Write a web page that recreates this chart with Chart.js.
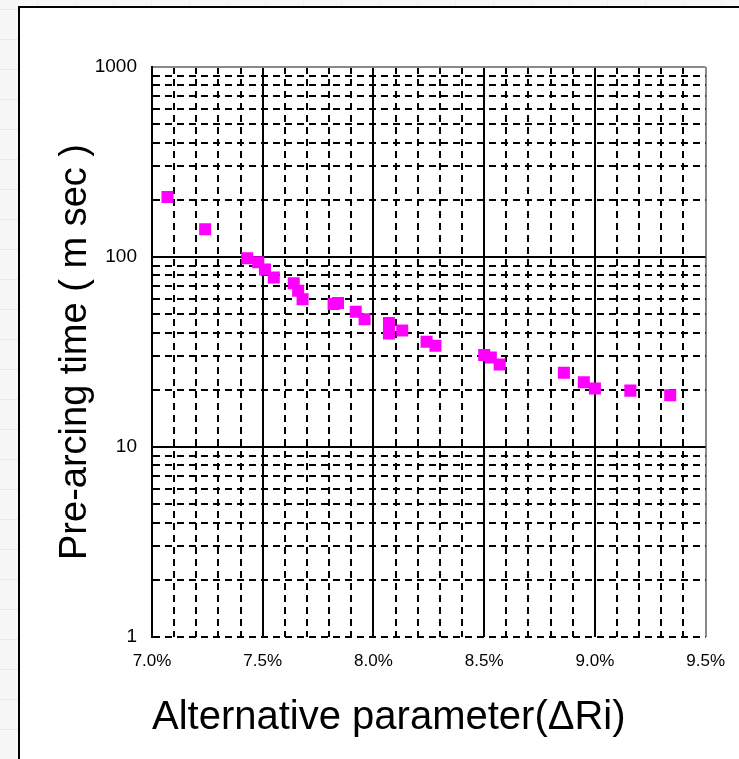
<!DOCTYPE html>
<html>
<head>
<meta charset="utf-8">
<script src="https://cdn.jsdelivr.net/npm/chart.js@4/dist/chart.umd.min.js"></script>
<style>
  html, body {
    margin: 0;
    padding: 0;
    width: 739px;
    height: 759px;
    overflow: hidden;
    background-color: #f7f7f7;
    background-image:
      repeating-linear-gradient(0deg, transparent 0 29px, #e9e9e9 29px 30px),
      repeating-linear-gradient(90deg, transparent 0 37px, #efefef 37px 38px);
  }
  #frame {
    position: absolute;
    left: 18px;
    top: 6px;
    width: 740px;
    height: 770px;
    border-left: 2px solid #000;
    border-top: 2px solid #000;
    background: #fff;
  }
  #chart {
    position: absolute;
    left: 0;
    top: 0;
  }
</style>
</head>
<body>
<div id="frame">
  <canvas id="chart" width="719" height="751"></canvas>
</div>
<script>
// values (x in %, y in msec)
const xValues = [7.07, 7.24, 7.43, 7.48, 7.51, 7.55, 7.64, 7.66, 7.68, 7.82, 7.84, 7.92, 7.96,
                 8.07, 8.07, 8.13, 8.24, 8.28, 8.50, 8.53, 8.57, 8.86, 8.95, 9.00, 9.16, 9.34];
const yValues = [207, 140, 98.5, 93.8, 86, 78, 72.8, 66.5, 60, 56.6, 57.3, 51.5, 47,
                 45, 39.6, 41, 35.8, 34.1, 30.5, 29.6, 27.2, 24.6, 21.9, 20.3, 19.8, 18.7];

// grid / tick positions
const xTicks = [7.0, 7.1, 7.2, 7.3, 7.4, 7.5, 7.6, 7.7, 7.8, 7.9,
                8.0, 8.1, 8.2, 8.3, 8.4, 8.5, 8.6, 8.7, 8.8, 8.9,
                9.0, 9.1, 9.2, 9.3, 9.4, 9.5];
const xLabelTicks = [7.0, 7.5, 8.0, 8.5, 9.0, 9.5];
const yTicks = [1, 2, 3, 4, 5, 6, 7, 8, 9,
                10, 20, 30, 40, 50, 60, 70, 80, 90,
                100, 200, 300, 400, 500, 600, 700, 800, 900, 1000];
const yLabelTicks = [1, 10, 100, 1000];

const xTitle = "Alternative parameter(ΔRi)";
const yTitle = "Pre-arcing time ( m sec )";

const points = xValues.map((x, i) => ({ x: x, y: yValues[i] }));

const fontFamily = "'Liberation Sans', Arial, sans-serif";

function near(a, b) {
  return Math.abs(a - b) < 1e-6;
}
function isXLabel(v) {
  return xLabelTicks.some(t => near(t, v));
}
function tickVal(ctx) {
  return ctx && ctx.tick ? ctx.tick.value : null;
}

new Chart(document.getElementById("chart"), {
  type: "scatter",
  data: {
    datasets: [{
      data: points,
      pointStyle: "rect",
      radius: 8.5,
      hoverRadius: 8.5,
      backgroundColor: "#ff00ff",
      borderWidth: 0
    }]
  },
  options: {
    responsive: false,
    animation: false,
    devicePixelRatio: 1,
    layout: {
      padding: { left: 0, top: 59, right: 31, bottom: 17 }
    },
    plugins: {
      legend: { display: false },
      tooltip: { enabled: false }
    },
    scales: {
      x: {
        type: "linear",
        min: 7,
        max: 9.5,
        afterBuildTicks: scale => {
          scale.ticks = xTicks.map(v => ({ value: v }));
        },
        afterFit: scale => { scale.height = 105; },
        ticks: {
          autoSkip: false,
          maxRotation: 0,
          minRotation: 0,
          padding: 14,
          color: "#000",
          font: { family: fontFamily, size: 17 },
          callback: v => isXLabel(v) ? v.toFixed(1) + "%" : ""
        },
        grid: {
          drawTicks: false,
          lineWidth: 2,
          color: ctx => near(tickVal(ctx), 9.5) ? "#8a8a8a" : "#000"
        },
        border: {
          display: false,
          dash: ctx => {
            const v = tickVal(ctx);
            return v === null || isXLabel(v) ? [] : [7, 5];
          }
        },
        title: {
          display: true,
          text: xTitle,
          align: "start",
          color: "#000",
          padding: { top: 0, bottom: 0 },
          font: { family: fontFamily, size: 40, weight: "normal" }
        }
      },
      y: {
        type: "logarithmic",
        min: 1,
        max: 1000,
        afterBuildTicks: scale => {
          scale.ticks = yTicks.map(v => ({ value: v }));
        },
        afterFit: scale => { scale.width = 132; },
        ticks: {
          autoSkip: false,
          padding: 15,
          color: "#000",
          font: { family: fontFamily, size: 19 },
          callback: v => yLabelTicks.includes(v) ? String(v) : ""
        },
        grid: {
          drawTicks: false,
          lineWidth: 2,
          color: ctx => tickVal(ctx) === 1000 ? "#8a8a8a" : "#000"
        },
        border: {
          display: true,
          color: "#000",
          width: 2,
          dash: ctx => {
            const v = tickVal(ctx);
            return v === 10 || v === 100 || v === 1000 || v === null ? [] : [7, 5];
          }
        },
        title: {
          display: true,
          text: yTitle,
          color: "#000",
          padding: { top: 33, bottom: 0 },
          font: { family: fontFamily, size: 38, weight: "normal" }
        }
      }
    }
  }
});
</script>
</body>
</html>
